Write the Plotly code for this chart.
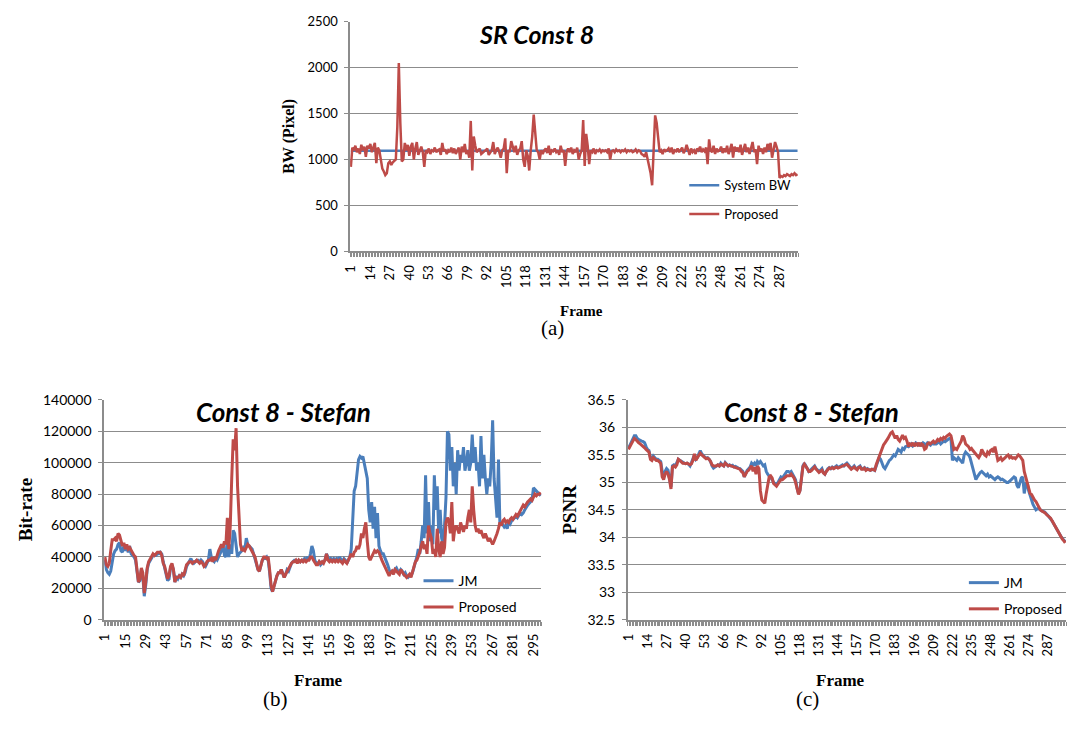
import plotly.graph_objects as go

# ---------------- data ----------------
# (a) SR Const 8: bandwidth per frame
N_A = 299
FRAMES_A = list(range(1, N_A + 1))
SYSTEM_BW_LEVEL = 1095
SYSTEM_BW = [SYSTEM_BW_LEVEL] * N_A
PROPOSED_BW = [
    920, 1130, 1100, 1150, 1080, 1120, 1060, 1160, 1100, 1140,
    1030, 1150, 1120, 1170, 1080, 1140, 1180, 960, 1130, 1100,
    1020, 900, 870, 830, 850, 960, 980, 940, 970, 990,
    1000, 1350, 2050, 1400, 980, 1000, 1180, 1100, 1160, 1040,
    1140, 1180, 1000, 1120, 1190, 1050, 1100, 1140, 1080, 920,
    1100, 1080, 1120, 1060, 1100, 1090, 1130, 1080, 1100, 1110,
    1050, 1180, 1090, 1110, 1060, 1100, 1080, 1130, 1070, 1120,
    1060, 1100, 1130, 1000, 1140, 1080, 1170, 1060, 1100, 1020,
    1420, 880, 1250, 1150, 1080, 1100, 1120, 1060, 1080, 1090,
    1100, 1120, 1050, 1080, 1100, 1190, 1060, 1100, 1130, 1080,
    1020, 1100, 1120, 1230, 850, 1100, 1080, 1200, 1120, 1080,
    1150, 1050, 1100, 1120, 1200, 1000, 920, 1100, 1040, 880,
    1100, 1250, 1490, 1300, 1100, 1080, 1000, 1100, 1060, 1100,
    1120, 1070, 1150, 1050, 1100, 1090, 1120, 1080, 1100, 1050,
    1150, 1080, 1100, 930, 1090, 1120, 1080, 1130, 1060, 1100,
    1080, 1130, 1000, 1060, 1100, 1430, 930, 1280, 1150, 950,
    1100, 1080, 1120, 1060, 1100, 1090, 1110, 1080, 1100, 1090,
    1100, 1080, 1120, 1000, 1090, 1100, 1080, 1110, 1090, 1100,
    1080, 1100, 1090, 1110, 1080, 1100, 1090, 1100, 1080, 1090,
    1110, 1080, 1100, 1090, 1060, 1050, 1030, 1080, 1000, 960,
    850, 720, 1200, 1480, 1400, 1200, 1080, 1100, 1060, 1110,
    1090, 1100, 1120, 1080, 1130, 1060, 1100, 1090, 1120, 1080,
    1100, 1130, 1070, 1100, 1160, 1090, 1050, 1120, 1080, 1100,
    1060, 1120, 1100, 1140, 1080, 1110, 1090, 1130, 950, 1220,
    1100, 1080, 1150, 1060, 1120, 1090, 1100, 1140, 1070, 1120,
    1080, 1150, 1060, 1110, 1170, 1020, 1140, 1090, 1130, 1080,
    1160, 1050, 1120, 1170, 1080, 1130, 1060, 1140, 1190, 1080,
    1110, 950, 1150, 1090, 1120, 1060, 1130, 1080, 1170, 1100,
    1180, 1020, 1120, 1190, 1140, 1080, 800, 820, 810, 830,
    820, 840, 830, 820, 840, 830, 850, 830, 840,
]

# (b) Const 8 - Stefan: bit-rate per frame, in thousands of bits
N_B = 300
FRAMES_B = list(range(1, N_B + 1))
JM_RATE_K = [
    38, 32, 30, 29, 31, 36, 42, 44, 45, 48,
    49, 44, 43, 47, 44, 46, 43, 47, 42, 41,
    40, 38, 31, 24, 25, 32, 28, 15, 22, 32,
    36, 38, 40, 41, 41, 41, 42, 42, 43, 42,
    37, 33, 30, 25, 26, 33, 35, 32, 24, 27,
    26, 28, 27, 29, 28, 30, 34, 36, 37, 39,
    37, 36, 37, 38, 38, 36, 38, 37, 35, 34,
    36, 38, 45, 40, 38, 37, 39, 38, 40, 42,
    44, 48, 41, 40, 52, 40, 48, 42, 57, 55,
    45, 40, 42, 43, 44, 46, 45, 52, 48, 47,
    46, 45, 42, 38, 35, 32, 31, 35, 38, 39,
    39, 40, 38, 30, 20, 18, 22, 26, 28, 30,
    30, 32, 30, 27, 29, 32, 31, 34, 36, 37,
    38, 38, 37, 38, 37, 38, 38, 39, 38, 40,
    38, 42, 47, 44, 38, 36, 36, 37, 35, 36,
    37, 38, 42, 40, 38, 39, 38, 39, 38, 39,
    38, 40, 38, 37, 39, 38, 36, 38, 40, 45,
    65, 82, 85, 95, 102, 104, 103, 104, 100, 95,
    90, 70, 62, 75, 58, 72, 52, 68, 47, 44,
    42, 42, 40, 38, 35, 32, 30, 31, 30, 32,
    33, 31, 30, 32, 31, 29, 30, 28, 27, 28,
    28, 30, 33, 37, 40, 45, 42, 50, 60, 52,
    92, 55, 75, 50, 60, 48, 92, 70, 85, 55,
    70, 52, 48, 60, 78, 120, 118, 95, 110, 85,
    100, 80, 108, 95, 105, 100, 110, 95, 100, 108,
    95, 100, 118, 100, 110, 95, 100, 85, 117, 90,
    105, 90, 80, 90, 85, 100, 127, 90, 80, 65,
    102, 60, 62, 60, 59, 60, 58, 62, 61, 63,
    64, 65, 66, 65, 67, 68, 67, 68, 70, 72,
    73, 74, 75, 76, 84, 83, 82, 81, 80, 79,
]
PROPOSED_RATE_K = [
    40, 35, 34, 36, 44, 51, 51, 52, 50, 55,
    54, 50, 47, 49, 45, 48, 45, 46, 44, 42,
    41, 40, 32, 24, 26, 33, 30, 17, 24, 33,
    37, 39, 41, 42, 41, 42, 43, 43, 43, 41,
    36, 34, 30, 26, 28, 34, 36, 32, 24, 27,
    27, 28, 27, 29, 28, 31, 35, 36, 37, 37,
    36, 37, 37, 38, 37, 36, 37, 36, 34, 35,
    37, 38, 38, 39, 37, 40, 38, 42, 44, 46,
    48, 46, 50, 48, 65, 45, 60, 90, 115, 108,
    122, 85, 62, 48, 44, 45, 44, 46, 48, 47,
    45, 44, 42, 40, 36, 32, 31, 35, 38, 40,
    40, 39, 40, 32, 22, 18, 22, 26, 28, 30,
    30, 32, 30, 27, 29, 31, 32, 35, 36, 37,
    37, 38, 36, 38, 37, 38, 37, 38, 37, 38,
    38, 40, 40, 38, 36, 35, 35, 37, 36, 37,
    36, 38, 42, 38, 37, 38, 37, 38, 37, 38,
    37, 38, 37, 36, 38, 37, 36, 38, 40, 42,
    40, 43, 44, 47, 45, 48, 55, 52, 58, 62,
    50, 40, 38, 40, 42, 44, 43, 44, 43, 40,
    38, 36, 34, 32, 30, 28, 30, 31, 29, 32,
    31, 30, 29, 32, 30, 29, 28, 27, 28, 29,
    27, 30, 33, 37, 38, 40, 43, 47, 50, 45,
    48, 42, 60, 55, 52, 42, 45, 40, 58, 45,
    40, 50, 42, 46, 62, 65, 63, 55, 75, 50,
    58, 60, 57, 55, 62, 58, 56, 60, 58, 65,
    70, 62, 85, 70, 60, 56, 58, 55, 57, 54,
    52, 55, 53, 50, 52, 50, 48, 50, 52, 55,
    58, 62, 60, 63, 64, 62, 63, 62, 64, 65,
    64, 66, 67, 66, 68, 70, 72, 73, 72, 74,
    75, 76, 77, 76, 78, 80, 79, 80, 80, 81,
]
JM_RATE = [v * 1000 for v in JM_RATE_K]
PROPOSED_RATE = [v * 1000 for v in PROPOSED_RATE_K]

# (c) Const 8 - Stefan: PSNR per frame (dB)
N_C = 299
FRAMES_C = list(range(1, N_C + 1))
JM_PSNR = [
    35.62, 35.68, 35.75, 35.82, 35.85, 35.85, 35.80, 35.78, 35.76, 35.75,
    35.74, 35.72, 35.65, 35.60, 35.58, 35.45, 35.42, 35.48, 35.45, 35.42,
    35.42, 35.40, 35.38, 35.20, 35.10, 35.20, 35.25, 35.22, 35.10, 34.92,
    35.30, 35.32, 35.30, 35.35, 35.42, 35.40, 35.38, 35.36, 35.35, 35.34,
    35.35, 35.33, 35.30, 35.36, 35.42, 35.50, 35.42, 35.45, 35.52, 35.58,
    35.52, 35.48, 35.46, 35.44, 35.45, 35.42, 35.38, 35.30, 35.26, 35.28,
    35.30, 35.32, 35.30, 35.35, 35.32, 35.30, 35.36, 35.32, 35.30, 35.32,
    35.30, 35.31, 35.28, 35.29, 35.27, 35.26, 35.25, 35.22, 35.20, 35.10,
    35.18, 35.22, 35.25, 35.28, 35.35, 35.32, 35.35, 35.30, 35.38, 35.35,
    35.38, 35.35, 35.30, 35.32, 35.20, 35.15, 35.12, 35.10, 35.05, 35.00,
    34.98, 34.95, 35.00, 35.05, 35.10, 35.08, 35.12, 35.15, 35.20, 35.20,
    35.18, 35.20, 35.15, 35.10, 35.05, 34.90, 34.80, 34.85, 35.10, 35.30,
    35.35, 35.30, 35.25, 35.20, 35.22, 35.25, 35.28, 35.30, 35.25, 35.22,
    35.20, 35.22, 35.25, 35.18, 35.15, 35.20, 35.25, 35.27, 35.25, 35.28,
    35.26, 35.28, 35.30, 35.27, 35.28, 35.30, 35.32, 35.30, 35.33, 35.35,
    35.32, 35.28, 35.25, 35.27, 35.30, 35.26, 35.24, 35.28, 35.30, 35.25,
    35.25, 35.27, 35.23, 35.25, 35.24, 35.22, 35.23, 35.24, 35.22, 35.30,
    35.40, 35.45, 35.42, 35.35, 35.28, 35.25, 35.30, 35.35, 35.40, 35.42,
    35.45, 35.50, 35.48, 35.55, 35.60, 35.58, 35.55, 35.62, 35.60, 35.65,
    35.66, 35.65, 35.68, 35.70, 35.66, 35.68, 35.72, 35.70, 35.68, 35.70,
    35.68, 35.72, 35.70, 35.68, 35.72, 35.70, 35.68, 35.72, 35.70, 35.70,
    35.70, 35.72, 35.74, 35.70, 35.72, 35.75, 35.74, 35.76, 35.78, 35.80,
    35.80, 35.40, 35.45, 35.42, 35.40, 35.45, 35.42, 35.38, 35.35, 35.50,
    35.55, 35.52, 35.50, 35.45, 35.35, 35.30, 35.15, 35.05, 35.10, 35.15,
    35.18, 35.20, 35.17, 35.15, 35.12, 35.15, 35.10, 35.12, 35.10, 35.08,
    35.05, 35.08, 35.10, 35.08, 35.05, 35.06, 35.03, 35.02, 35.00, 35.00,
    35.02, 35.05, 35.08, 35.10, 35.08, 34.95, 34.90, 35.00, 35.08, 35.10,
    34.80, 34.95, 35.00, 34.85, 34.75, 34.65, 34.60, 34.55, 34.50, 34.52,
    34.52, 34.50, 34.48, 34.47, 34.46, 34.42, 34.40, 34.37, 34.34, 34.30,
    34.25, 34.20, 34.15, 34.10, 34.06, 34.02, 33.98, 33.95, 33.92,
]
PROPOSED_PSNR = [
    35.60, 35.65, 35.70, 35.76, 35.80, 35.78, 35.74, 35.72, 35.70, 35.68,
    35.66, 35.63, 35.60, 35.58, 35.55, 35.42, 35.40, 35.45, 35.42, 35.40,
    35.40, 35.38, 35.35, 35.10, 35.05, 35.15, 35.20, 35.15, 35.05, 34.88,
    35.28, 35.30, 35.28, 35.32, 35.42, 35.40, 35.37, 35.35, 35.35, 35.34,
    35.35, 35.33, 35.32, 35.34, 35.40, 35.52, 35.40, 35.45, 35.50, 35.53,
    35.50, 35.47, 35.45, 35.43, 35.44, 35.42, 35.38, 35.32, 35.30, 35.30,
    35.30, 35.32, 35.30, 35.33, 35.32, 35.30, 35.35, 35.32, 35.30, 35.31,
    35.30, 35.30, 35.28, 35.28, 35.27, 35.25, 35.24, 35.20, 35.18, 35.10,
    35.15, 35.20, 35.22, 35.25, 35.30, 35.20, 35.28, 35.15, 35.30, 35.25,
    34.85, 34.68, 34.64, 34.62, 34.80, 35.00, 35.10, 35.12, 35.08, 34.98,
    34.95, 34.93, 34.97, 35.02, 35.05, 35.05, 35.08, 35.10, 35.12, 35.12,
    35.12, 35.15, 35.12, 35.08, 35.00, 34.88, 34.78, 34.85, 35.10, 35.28,
    35.33, 35.30, 35.25, 35.20, 35.20, 35.22, 35.25, 35.28, 35.24, 35.20,
    35.18, 35.20, 35.22, 35.17, 35.15, 35.20, 35.24, 35.26, 35.25, 35.27,
    35.25, 35.27, 35.28, 35.26, 35.27, 35.28, 35.30, 35.30, 35.31, 35.33,
    35.30, 35.27, 35.24, 35.26, 35.28, 35.25, 35.23, 35.27, 35.28, 35.24,
    35.24, 35.26, 35.22, 35.24, 35.23, 35.22, 35.24, 35.23, 35.22, 35.32,
    35.40, 35.48, 35.55, 35.60, 35.68, 35.72, 35.75, 35.80, 35.85, 35.90,
    35.92, 35.85, 35.80, 35.85, 35.78, 35.75, 35.82, 35.86, 35.80, 35.82,
    35.75, 35.65, 35.70, 35.68, 35.72, 35.66, 35.70, 35.68, 35.72, 35.66,
    35.70, 35.68, 35.60, 35.62, 35.70, 35.72, 35.70, 35.72, 35.75, 35.72,
    35.74, 35.78, 35.76, 35.80, 35.78, 35.82, 35.80, 35.84, 35.86, 35.88,
    35.85, 35.75, 35.60, 35.62, 35.60, 35.65, 35.70, 35.75, 35.85, 35.80,
    35.70, 35.68, 35.65, 35.60, 35.62, 35.58, 35.55, 35.50, 35.48, 35.45,
    35.50, 35.60, 35.55, 35.50, 35.48, 35.55, 35.52, 35.58, 35.60, 35.55,
    35.65, 35.55, 35.40, 35.42, 35.45, 35.40, 35.42, 35.45, 35.48, 35.50,
    35.45, 35.47, 35.44, 35.45, 35.43, 35.47, 35.50, 35.48, 35.44, 35.40,
    35.20, 35.10, 35.00, 34.90, 34.80, 34.78, 34.72, 34.68, 34.65, 34.60,
    34.55, 34.50, 34.48, 34.47, 34.45, 34.42, 34.40, 34.38, 34.35, 34.30,
    34.25, 34.20, 34.15, 34.10, 34.05, 34.00, 33.97, 33.94, 33.90,
]

# ---------------- styling ----------------
W, H = 1068, 749
BLUE = "#4A7EBB"
RED = "#BE4B48"
GRID = "#8C8C8C"
TICK_FONT = dict(family="Lato, 'Open Sans', sans-serif", size=13, color="#000000")
TITLE_FONT = "Lato, 'Open Sans', sans-serif"
SERIF = "'Liberation Serif', 'DejaVu Serif', serif"


def px_x(x):
    return x / W


def px_y(y):
    return 1 - y / H


fig = go.Figure()

# (a)
fig.add_trace(go.Scatter(x=FRAMES_A, y=SYSTEM_BW, mode="lines", name="System BW",
                         line=dict(color=BLUE, width=2.5), xaxis="x", yaxis="y",
                         legend="legend", legendgroup="a1"))
fig.add_trace(go.Scatter(x=FRAMES_A, y=PROPOSED_BW, mode="lines", name="Proposed",
                         line=dict(color=RED, width=2.5), xaxis="x", yaxis="y",
                         legend="legend", legendgroup="a2"))
# (b)
fig.add_trace(go.Scatter(x=FRAMES_B, y=JM_RATE, mode="lines", name="JM",
                         line=dict(color=BLUE, width=3), xaxis="x2", yaxis="y2",
                         legend="legend2", legendgroup="b1"))
fig.add_trace(go.Scatter(x=FRAMES_B, y=PROPOSED_RATE, mode="lines", name="Proposed",
                         line=dict(color=RED, width=3), xaxis="x2", yaxis="y2",
                         legend="legend2", legendgroup="b2"))
# (c)
fig.add_trace(go.Scatter(x=FRAMES_C, y=JM_PSNR, mode="lines", name="JM",
                         line=dict(color=BLUE, width=3), xaxis="x3", yaxis="y3",
                         legend="legend3", legendgroup="c1"))
fig.add_trace(go.Scatter(x=FRAMES_C, y=PROPOSED_PSNR, mode="lines", name="Proposed",
                         line=dict(color=RED, width=3), xaxis="x3", yaxis="y3",
                         legend="legend3", legendgroup="c2"))


def x_axis(n, step, domain, anchor):
    return dict(
        domain=domain, anchor=anchor, range=[0.5, n + 0.5],
        tickvals=list(range(1, n + 1, step)), tickangle=-90,
        tickfont=TICK_FONT, ticks="", showgrid=False, zeroline=False,
        showline=True, linecolor=GRID, linewidth=1.5, ticklabelstandoff=7,
        minor=dict(ticks="outside", ticklen=4, tickcolor=GRID, tickwidth=1,
                   dtick=1, tick0=0.5, showgrid=False),
    )


def y_axis(rng, dtick, domain, anchor, fmt=None, size=13):
    d = dict(
        domain=domain, anchor=anchor, range=rng, dtick=dtick, tick0=rng[0],
        tickfont=dict(TICK_FONT, size=size), showgrid=True, gridcolor=GRID,
        gridwidth=1, zeroline=False, showline=True, linecolor=GRID, linewidth=1.5,
        ticks="outside", ticklen=4, tickcolor=GRID, ticklabelstandoff=4,
    )
    if fmt:
        d["tickformat"] = fmt
    return d


dom_a_x = [px_x(345), px_x(797)]
dom_a_y = [px_y(248), px_y(13)]
dom_b_x = [px_x(97), px_x(538)]
dom_c_x = [px_x(625), px_x(1067)]
dom_bc_y = [px_y(625), px_y(400)]

legend_common = dict(bgcolor="rgba(0,0,0,0)", font=dict(family=TITLE_FONT, size=13, color="#000"),
                     xanchor="left", yanchor="top", tracegroupgap=9, itemwidth=30,
                     traceorder="grouped")

fig.update_layout(
    width=W, height=H, margin=dict(l=0, r=0, t=0, b=0),
    paper_bgcolor="white", plot_bgcolor="white", showlegend=True,
    xaxis=x_axis(N_A, 13, dom_a_x, "y"),
    yaxis=y_axis([0, 2500], 500, dom_a_y, "x"),
    xaxis2=x_axis(N_B, 14, dom_b_x, "y2"),
    yaxis2=y_axis([0, 140000], 20000, dom_bc_y, "x2", fmt="d", size=14),
    xaxis3=x_axis(N_C, 13, dom_c_x, "y3"),
    yaxis3=y_axis([32.5, 36.5], 0.5, dom_bc_y, "x3", size=14),
    legend=dict(legend_common, x=px_x(682), y=px_y(165)),
    legend2=dict(legend_common, x=px_x(414), y=px_y(569), tracegroupgap=5,
                 font=dict(family=TITLE_FONT, size=14, color="#000")),
    legend3=dict(legend_common, x=px_x(964), y=px_y(571), tracegroupgap=5,
                 font=dict(family=TITLE_FONT, size=14, color="#000")),
)


def note(text, x, y, size, family, bold=False, italic=False, angle=0, color="#000"):
    if bold:
        text = f"<b>{text}</b>"
    if italic:
        text = f"<i>{text}</i>"
    fig.add_annotation(text=text, x=px_x(x), y=px_y(y), xref="paper", yref="paper",
                       showarrow=False, textangle=angle, xanchor="center", yanchor="middle",
                       font=dict(family=family, size=size, color=color))


# chart titles
note("SR Const 8", 533, 26, 25, TITLE_FONT, bold=True, italic=True)
note("Const 8 - Stefan", 278, 412, 26, TITLE_FONT, bold=True, italic=True)
note("Const 8 - Stefan", 810, 412, 26, TITLE_FONT, bold=True, italic=True)

# axis titles
note("BW (Pixel)", 283, 130, 16, SERIF, bold=True, angle=-90)
note("Frame", 578, 309, 15, SERIF, bold=True)
note("Bit-rate", 18, 512, 19, SERIF, bold=True, angle=-90)
note("Frame", 313, 687, 17, SERIF, bold=True)
note("PSNR", 566, 512, 19, SERIF, bold=True, angle=-90)
note("Frame", 840, 687, 17, SERIF, bold=True)

# panel captions
note("(a)", 549, 326, 21, SERIF)
note("(b)", 270, 706, 21, SERIF)
note("(c)", 806, 706, 21, SERIF)

fig.write_html("out.html")
